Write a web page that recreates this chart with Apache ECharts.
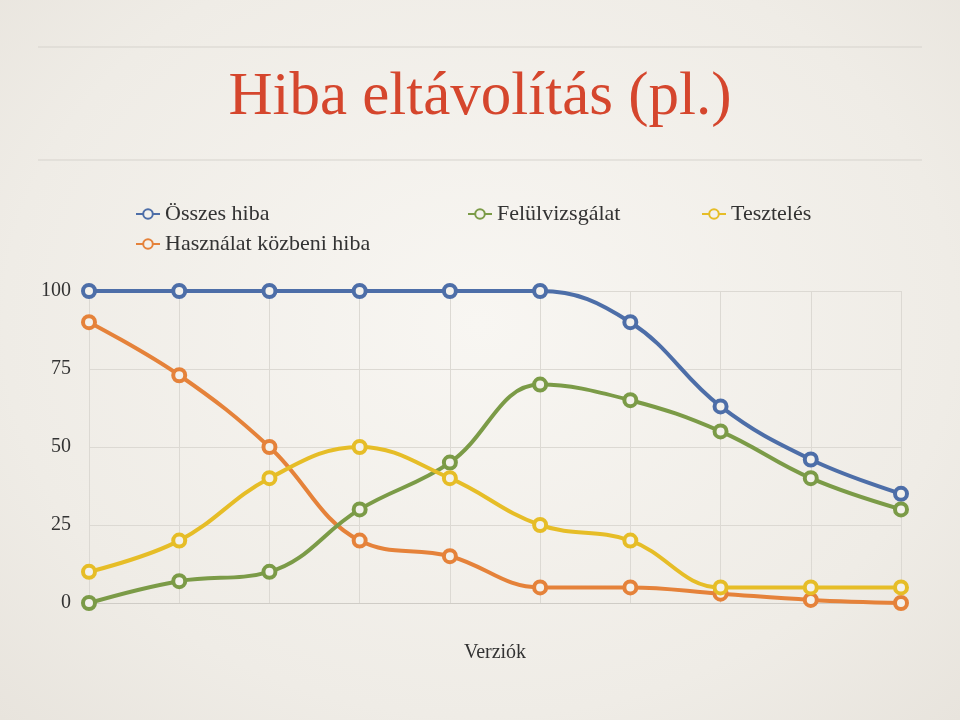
<!DOCTYPE html>
<html>
<head>
<meta charset="utf-8">
<script src="https://cdn.jsdelivr.net/npm/echarts@6/dist/echarts.min.js"></script>
<style>
html,body{margin:0;padding:0;}
#chart{width:960px;height:720px;background:radial-gradient(ellipse at 50% 45%,#f8f6f2 0%,#efece6 70%,#e8e4dd 100%);}
</style>
</head>
<body>
<div id="chart"></div>
<script>
var versions = ['1', '2', '3', '4', '5', '6', '7', '8', '9', '10'];
var osszes = [100, 100, 100, 100, 100, 100, 90, 63, 46, 35];
var hasznalat = [90, 73, 50, 20, 15, 5, 5, 3, 1, 0];
var felul = [0, 7, 10, 30, 45, 70, 65, 55, 40, 30];
var teszt = [10, 20, 40, 50, 40, 25, 20, 5, 5, 5];

var serif = '"Liberation Serif", "DejaVu Serif", serif';
var myChart = echarts.init(document.getElementById('chart'));

function line(name, data, color) {
	return {
		name: name,
		type: 'line',
		smooth: 0.4,
		data: data,
		symbol: 'circle',
		symbolSize: 12,
		lineStyle: { color: color, width: 4 },
		itemStyle: { color: '#f3f1ec', borderColor: color, borderWidth: 4 }
	};
}

function leg(name, left, top) {
	return {
		data: [name],
		left: left,
		top: top,
		itemWidth: 24,
		itemHeight: 12,
		textStyle: { fontFamily: serif, fontSize: 22, color: '#333' }
	};
}

var option = {
	backgroundColor: 'transparent',
	title: {
		text: 'Hiba eltávolítás (pl.)',
		left: 'center',
		top: 62,
		textStyle: { fontFamily: serif, fontSize: 61, fontWeight: 'normal', color: '#d5462d' }
	},
	graphic: [
		{ type: 'line', shape: { x1: 38, y1: 47, x2: 922, y2: 47 }, style: { stroke: '#d6d3cd', lineWidth: 1 } },
		{ type: 'line', shape: { x1: 38, y1: 160, x2: 922, y2: 160 }, style: { stroke: '#d6d3cd', lineWidth: 1 } }
	],
	legend: [
		leg('Összes hiba', 130, 198),
		leg('Felülvizsgálat', 462, 198),
		leg('Tesztelés', 696, 198),
		leg('Használat közbeni hiba', 130, 228)
	],
	grid: { left: 89, right: 59, top: 291, bottom: 117 },
	xAxis: {
		type: 'category',
		data: versions,
		boundaryGap: false,
		name: 'Verziók',
		nameLocation: 'middle',
		nameGap: 40,
		nameTextStyle: { fontFamily: serif, fontSize: 20, color: '#333' },
		axisLabel: { show: false },
		axisTick: { show: false },
		axisLine: { lineStyle: { color: '#cfccc6' } },
		splitLine: { show: true, lineStyle: { color: '#dcd9d3' } }
	},
	yAxis: {
		type: 'value',
		min: 0,
		max: 100,
		interval: 25,
		axisLabel: { fontFamily: serif, fontSize: 20, color: '#333', margin: 18 },
		axisLine: { show: false },
		axisTick: { show: false },
		splitLine: { lineStyle: { color: '#dcd9d3' } }
	},
	series: [
		line('Összes hiba', osszes, '#4d6ea8'),
		line('Használat közbeni hiba', hasznalat, '#e5823a'),
		line('Felülvizsgálat', felul, '#7b9b47'),
		line('Tesztelés', teszt, '#e6bd27')
	]
};
myChart.setOption(option);
</script>
</body>
</html>
